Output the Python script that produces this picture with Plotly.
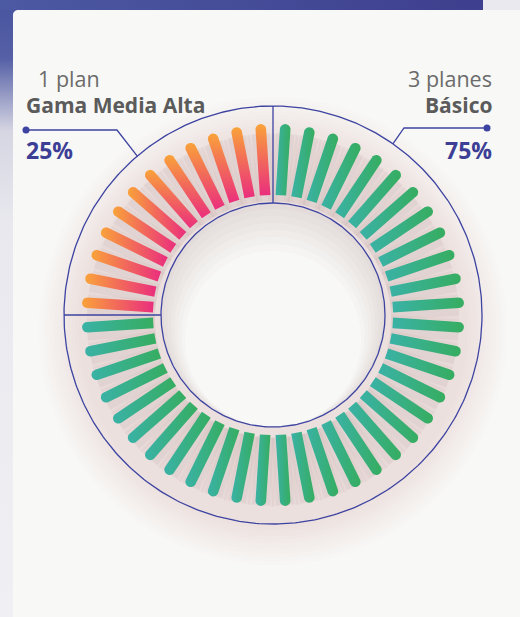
import numpy as np
import plotly.graph_objects as go

# ---------------- data ----------------
categories = ["Gama Media Alta", "Básico"]
plan_labels = ["1 plan", "3 planes"]
plan_counts = [1, 3]
shares = [25, 75]          # percent of plans
pct_labels = ["25%", "75%"]

# ---------------- style / geometry ----------------
W, H = 520, 617
CX, CY = 273, 315
R_OUT, R_IN = 209, 112
BAR_R1, BAR_R2, BAR_HALF = 120, 186, 5.3
N_BARS = 48
START_DEG = 90.0
NAVY = "#3d43a0"
CARD = "#f8f8f6"
SEG_COLORS = [("#f9a23a", "#ea2e7d"), ("#3ab2a6", "#36ad60")]
FONT = "Open Sans"


def pt(r, deg, cx=CX, cy=CY):
    a = np.deg2rad(deg)
    return cx + r * np.cos(a), cy - r * np.sin(a)


def circle(r, cx=CX, cy=CY, n=240, reverse=False):
    t = np.linspace(0, 360, n)
    if reverse:
        t = t[::-1]
    x, y = pt(r, t, cx, cy)
    return list(x), list(y)


fig = go.Figure()

# ---- page background pieces ----
fig.add_trace(go.Scatter(x=[0, 483, 483, 0, 0], y=[0, 0, 10, 10, 0], mode="none", fill="toself",
                         fillgradient=dict(type="horizontal", colorscale=[[0, "#4c59a3"], [1, "#3e3f8e"]]),
                         hoverinfo="skip", showlegend=False))
fig.add_trace(go.Scatter(x=[483, 520, 520, 483, 483], y=[0, 0, 10, 10, 0], mode="none", fill="toself",
                         fillcolor="#e9e9ef", hoverinfo="skip", showlegend=False))
ca = np.linspace(90, 180, 12)
cxs = list(18 + 5 * np.cos(np.deg2rad(ca)))
cys = list(15 - 5 * np.sin(np.deg2rad(ca)))
fig.add_trace(go.Scatter(x=[0, 18] + cxs + [13, 0, 0], y=[10, 10] + cys + [617, 617, 10], mode="none",
                         fill="toself",
                         fillgradient=dict(type="vertical", start=617, stop=10,
                                           colorscale=[[0, "#f0f0f4"], [0.65, "#e8e8ee"], [0.8, "#d6d6e3"],
                                                       [0.92, "#5560a6"], [1, "#4a56a0"]]),
                         hoverinfo="skip", showlegend=False))

# ---- soft shadow of the donut ----
for k in range(12):
    r = 234 - k * 3.6
    x, y = circle(r, CX, CY + 16)
    fig.add_trace(go.Scatter(x=x, y=y, mode="none", fill="toself", fillcolor="rgba(150,105,105,0.013)",
                             hoverinfo="skip", showlegend=False))

# hole of the donut
x, y = circle(R_IN)
fig.add_trace(go.Scatter(x=x, y=y, mode="none", fill="toself", fillcolor=CARD,
                         hoverinfo="skip", showlegend=False))
# shadow falling into the hole (crescents)
for k in range(7):
    d = 3 + k * 3.5
    xo, yo = circle(R_IN - 0.5)
    xi, yi = circle(R_IN - d, CX, CY + d, reverse=True)
    fig.add_trace(go.Scatter(x=xo + xi, y=yo + yi, mode="none", fill="toself",
                             fillcolor="rgba(150,110,110,0.026)", hoverinfo="skip", showlegend=False))

# ---- bars angles derived from shares ----
bar_angles, bar_seg = [], []
cum = START_DEG
boundaries = [START_DEG]
step = 360.0 / N_BARS
for i, s in enumerate(shares):
    n = int(round(s / 100 * N_BARS))
    for j in range(n):
        bar_angles.append(cum + (j + 0.5) * step)
        bar_seg.append(i)
    cum += n * step
    boundaries.append(cum)

# bar shadows
for wdt, alpha, off in [(26, 0.045, 5), (18, 0.06, 4)]:
    sx, sy = [], []
    for a in bar_angles:
        x1, y1 = pt(BAR_R1 - 2, a, CX, CY + off)
        x2, y2 = pt(BAR_R2, a, CX, CY + off)
        sx += [x1, x2, None]
        sy += [y1, y2, None]
    fig.add_trace(go.Scatter(x=sx, y=sy, mode="lines", line=dict(color=f"rgba(140,95,95,{alpha})", width=wdt),
                             hoverinfo="skip", showlegend=False))

# circles
for r in (R_OUT, R_IN):
    x, y = circle(r, n=400)
    fig.add_trace(go.Scatter(x=x, y=y, mode="lines", line=dict(color=NAVY, width=1.3),
                             hoverinfo="skip", showlegend=False))
# dividers at segment boundaries
for b in boundaries[:-1]:
    x1, y1 = pt(R_IN, b)
    x2, y2 = pt(R_OUT, b)
    fig.add_trace(go.Scatter(x=[x1, x2], y=[y1, y2], mode="lines", line=dict(color=NAVY, width=1.3),
                             hoverinfo="skip", showlegend=False))

# bars
for a, seg in zip(bar_angles, bar_seg):
    ar = np.deg2rad(a)
    ux, uy = np.cos(ar), np.sin(ar)
    vx, vy = -np.sin(ar), np.cos(ar)
    px = [BAR_R1 * ux - BAR_HALF * vx, BAR_R2 * ux - BAR_HALF * vx]
    py = [BAR_R1 * uy - BAR_HALF * vy, BAR_R2 * uy - BAR_HALF * vy]
    for t in np.linspace(-90, 90, 13)[1:-1]:
        tt = ar + np.deg2rad(t)
        px.append(BAR_R2 * ux + BAR_HALF * np.cos(tt))
        py.append(BAR_R2 * uy + BAR_HALF * np.sin(tt))
    px += [BAR_R2 * ux + BAR_HALF * vx, BAR_R1 * ux + BAR_HALF * vx, BAR_R1 * ux - BAR_HALF * vx]
    py += [BAR_R2 * uy + BAR_HALF * vy, BAR_R1 * uy + BAR_HALF * vy, BAR_R1 * uy - BAR_HALF * vy]
    X = [CX + p for p in px]
    Y = [CY - p for p in py]
    c0, c1 = SEG_COLORS[seg]
    if seg == 0 and (a % 360) < 135:
        grad = dict(type="vertical", colorscale=[[0, c1], [1, c0]])
    else:
        grad = dict(type="horizontal", colorscale=[[0, c0], [1, c1]])
    fig.add_trace(go.Scatter(x=X, y=Y, mode="none", fill="toself", fillgradient=grad,
                             hoverinfo="skip", showlegend=False))

# leader lines
leader_angles = [130.5, 55.0]
leader_y = [130, 128]
leader_x_end = [26, 487]
leader_knee = [117, 404]
for i in range(2):
    xe, ye = pt(R_OUT, leader_angles[i])
    fig.add_trace(go.Scatter(x=[xe, leader_knee[i], leader_x_end[i]], y=[ye, leader_y[i], leader_y[i]],
                             mode="lines", line=dict(color=NAVY, width=1.3), hoverinfo="skip", showlegend=False))
    fig.add_trace(go.Scatter(x=[leader_x_end[i]], y=[leader_y[i]], mode="markers",
                             marker=dict(color=NAVY, size=7), hoverinfo="skip", showlegend=False))

# labels
ann = []
lx = [[36, 24, 24], [494, 494, 494]]
anchors = ["left", "right"]
for i in range(2):
    ann.append(dict(x=lx[i][0], y=78, xref="x", yref="y", text=plan_labels[i], showarrow=False,
                    xanchor=anchors[i], yanchor="middle", font=dict(family=FONT, size=21.5, color="#6b6b6b")))
    ann.append(dict(x=lx[i][1], y=105, xref="x", yref="y", text=f"<b>{categories[i]}</b>", showarrow=False,
                    xanchor=anchors[i], yanchor="middle", font=dict(family=FONT, size=21, color="#5b5b5b")))
    ann.append(dict(x=lx[i][2], y=150, xref="x", yref="y", text=f"<b>{pct_labels[i]}</b>", showarrow=False,
                    xanchor=anchors[i], yanchor="middle", font=dict(family=FONT, size=23, color="#3c3f95")))

fig.update_layout(
    width=W, height=H, margin=dict(l=0, r=0, t=0, b=0),
    paper_bgcolor=CARD, plot_bgcolor=CARD,
    xaxis=dict(range=[0, W], visible=False, fixedrange=True),
    yaxis=dict(range=[H, 0], visible=False, fixedrange=True),
    annotations=ann, showlegend=False,
)
fig.write_html("out.html", config={"displayModeBar": False},
               post_script="document.body.style.margin='0';document.body.style.overflow='hidden';")
